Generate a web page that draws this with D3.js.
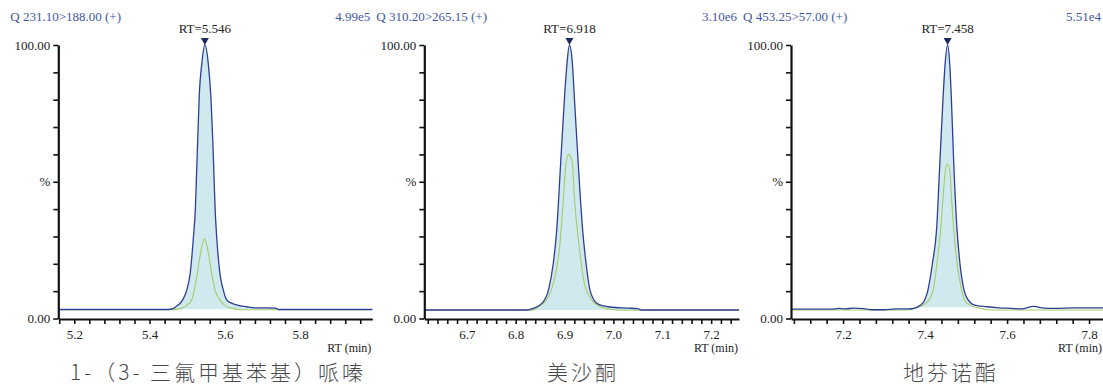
<!DOCTYPE html>
<html>
<head>
<meta charset="utf-8">
<script src="https://cdn.jsdelivr.net/npm/d3@7"></script>
<style>
body { margin: 0; background: #fff; }
svg { display: block; }
</style>
</head>
<body>
<div id="chart"></div>
<script>
// chromatogram data, [time (min), intensity %]
var transitions = ["Q 231.10>188.00 (+)", "Q 310.20>265.15 (+)", "Q 453.25>57.00 (+)"];
var maxCounts = ["4.99e5", "3.10e6", "5.51e4"];
var rtLabels = ["5.546", "6.918", "7.458"];
var names = ["1-（3- 三氟甲基苯基）哌嗪", "美沙酮", "地芬诺酯"];

var xDomains = [[5.1575, 5.992], [6.613, 7.257], [7.073, 7.834]];
var xMajor = [[5.2, 5.4, 5.6, 5.8], [6.7, 6.8, 6.9, 7.0, 7.1, 7.2], [7.2, 7.4, 7.6, 7.8]];
var xMinorStep = [0.04, 0.02, 0.04];
var yTicks = [0, 10, 20, 30, 40, 50, 60, 70, 80, 90, 100];

var blue1 = [[5.158,3.3],[5.45,3.3],[5.462,3.6],[5.470,4.3],[5.488,6.8],[5.499,10.4],[5.508,16.5],[5.516,28.7],
  [5.522,40.9],[5.525,53.1],[5.528,65.3],[5.532,81.1],[5.539,93.3],[5.547,100],[5.556,93.3],[5.563,81.1],
  [5.568,65.3],[5.571,53.1],[5.574,40.9],[5.579,28.7],[5.587,16.5],[5.596,10.4],[5.605,6.8],[5.618,5.6],
  [5.635,4.8],[5.658,4.3],[5.68,3.9],[5.736,3.8],[5.742,3.3],[5.992,3.3]];
var green1 = [[5.158,3.2],[5.46,3.2],[5.486,3.8],[5.500,5.0],[5.512,6.8],[5.520,11],[5.527,16.5],[5.534,22.6],
  [5.539,26.3],[5.546,29.1],[5.553,26.3],[5.558,22.6],[5.565,16.5],[5.574,10.5],[5.587,6.8],[5.600,4.8],
  [5.618,3.8],[5.645,3.2],[5.992,3.2]];

var blue2 = [[6.613,3.1],[6.82,3.1],[6.836,3.7],[6.854,5.6],[6.867,10.4],[6.877,20.2],[6.884,32.4],[6.892,56.7],
  [6.900,81.1],[6.905,93.3],[6.910,100],[6.916,93.3],[6.920,81.1],[6.928,56.7],[6.937,32.4],[6.944,20.2],
  [6.952,10.4],[6.966,5.6],[6.980,4.6],[6.993,4.2],[7.03,3.8],[7.05,3.6],[7.058,3.1],[7.257,3.1]];
var green2 = [[6.613,3.0],[6.83,3.0],[6.847,4.3],[6.867,8.0],[6.879,14.1],[6.890,26.3],[6.898,44.5],[6.903,56.7],
  [6.909,60],[6.916,56.7],[6.920,44.5],[6.930,26.3],[6.939,14.1],[6.951,8.0],[6.973,4.3],[6.99,3.5],
  [7.02,3.0],[7.257,3.0]];

var blue3 = [[7.073,3.4],[7.17,3.4],[7.19,3.7],[7.205,3.5],[7.225,3.8],[7.25,3.6],[7.27,3.2],[7.30,3.2],
  [7.33,3.5],[7.36,3.5],[7.375,3.8],[7.388,4.8],[7.398,6.4],[7.407,10.4],[7.418,20.2],[7.428,32.4],
  [7.436,56.7],[7.444,81.1],[7.449,93.3],[7.455,100],[7.460,93.3],[7.464,81.1],[7.470,56.7],[7.478,32.4],
  [7.485,20.2],[7.495,10.4],[7.505,6.8],[7.521,4.9],[7.55,4.3],[7.58,3.9],[7.61,3.7],[7.635,3.5],
  [7.665,4.4],[7.69,3.8],[7.72,3.7],[7.76,3.9],[7.834,3.9]];
var green3 = [[7.073,3.1],[7.36,3.1],[7.379,3.9],[7.403,5.7],[7.420,10.5],[7.429,20.3],[7.438,32.4],[7.444,44.5],
  [7.4497,54.3],[7.454,56.6],[7.4602,54.3],[7.4644,44.5],[7.470,32.4],[7.478,20.3],[7.489,10.5],[7.501,5.7],
  [7.529,3.9],[7.56,3.1],[7.834,3.1]];

// integrated peak window [start, end, baseline %]
var peakWindows = [[5.455, 5.742, 3.3], [6.83, 7.058, 3.1], [7.388, 7.515, 4.0]];

var blueSeries = [blue1, blue2, blue3];
var greenSeries = [green1, green2, green3];

var width = 1103, height = 386;
var axisLeftX = [58.3, 424.3, 791];
var axisRightX = [372.3, 739, 1103];
var y0 = 318.5, y100 = 45;

var serif = "'Times New Roman', 'Liberation Serif', 'DejaVu Serif', serif";
var cjk = "'Noto Sans CJK SC', 'Noto Sans', sans-serif";

var svg = d3.select("#chart").append("svg")
  .attr("width", width)
  .attr("height", height);

for (var p = 0; p < 3; p++) {
  var x = d3.scaleLinear().domain(xDomains[p]).range([axisLeftX[p], axisRightX[p]]);
  var y = d3.scaleLinear().domain([0, 100]).range([y0, y100]);
  var g = svg.append("g");

  // fill of the integrated peak
  var win = peakWindows[p];
  g.append("clipPath").attr("id", "clip" + p)
    .append("rect")
    .attr("x", x(win[0])).attr("width", x(win[1]) - x(win[0]))
    .attr("y", 0).attr("height", y(win[2]));

  var area = d3.area()
    .x(function(d) { return x(d[0]); })
    .y0(y(win[2]))
    .y1(function(d) { return y(d[1]); })
    .curve(d3.curveMonotoneX);

  g.append("path")
    .datum(blueSeries[p])
    .attr("clip-path", "url(#clip" + p + ")")
    .attr("fill", "#d0e9ef")
    .attr("d", area);

  var line = d3.line()
    .x(function(d) { return x(d[0]); })
    .y(function(d) { return y(d[1]); })
    .curve(d3.curveMonotoneX);

  g.append("path")
    .datum(greenSeries[p])
    .attr("fill", "none")
    .attr("stroke", "#a9c96b")
    .attr("stroke-width", 1.1)
    .attr("d", line);

  g.append("path")
    .datum(blueSeries[p])
    .attr("fill", "none")
    .attr("stroke", "#2e3f95")
    .attr("stroke-width", 1.3)
    .attr("d", line);

  // x axis
  var minor = d3.range(xDomains[p][0], xDomains[p][1], 0.001)
    .map(function(v) { return Math.round(v / xMinorStep[p]) * xMinorStep[p]; });
  minor = Array.from(new Set(minor.map(function(v) { return +v.toFixed(3); })))
    .filter(function(v) { return v >= xDomains[p][0] && v <= xDomains[p][1]; });

  var xAxis = g.append("g")
    .attr("transform", "translate(0," + (y0 + 0.5) + ")")
    .call(d3.axisBottom(x).tickValues(minor).tickSize(5).tickSizeOuter(0)
      .tickFormat(function(d) {
        var isMajor = xMajor[p].some(function(m) { return Math.abs(m - d) < 1e-6; });
        return isMajor ? d3.format(".1f")(d) : "";
      }));
  xAxis.attr("font-family", null).style("font-family", serif);
  xAxis.select(".domain").attr("stroke", "#111").attr("stroke-width", 2.2);
  xAxis.selectAll(".tick line").attr("stroke", "#111").attr("stroke-width", 1.6);
  xAxis.selectAll(".tick text")
    .style("font-family", serif).attr("font-size", 13).attr("fill", "#222").attr("dy", "0.95em");

  // y axis
  var yAxis = g.append("g")
    .attr("transform", "translate(" + axisLeftX[p] + ",0)")
    .call(d3.axisLeft(y).tickValues(yTicks).tickSize(5).tickSizeOuter(0)
      .tickFormat(function(d) {
        if (d === 100) return "100.00";
        if (d === 0) return "0.00";
        if (d === 50) return "%";
        return "";
      }));
  yAxis.attr("font-family", null).style("font-family", serif);
  yAxis.select(".domain").attr("stroke", "#111").attr("stroke-width", 2.2);
  yAxis.selectAll(".tick line").attr("stroke", "#111").attr("stroke-width", 1.6);
  yAxis.selectAll(".tick text")
    .style("font-family", serif).attr("font-size", 13).attr("fill", "#222").attr("x", -8);

  // header texts
  g.append("text")
    .style("font-family", serif)
    .attr("x", axisLeftX[p] - 48).attr("y", 21)
    .attr("font-size", 13).attr("fill", "#4257a3")
    .text(transitions[p]);
  g.append("text")
    .style("font-family", serif)
    .attr("x", axisRightX[p] - 2).attr("y", 21)
    .attr("text-anchor", "end")
    .attr("font-size", 13).attr("fill", "#4257a3")
    .text(maxCounts[p]);

  // peak marker at the apex
  var apex = blueSeries[p].reduce(function(a, b) { return b[1] > a[1] ? b : a; });
  var px = x(apex[0]);
  g.append("path")
    .attr("d", "M" + (px - 4) + "," + 38 + "L" + (px + 4) + "," + 38 + "L" + px + "," + 45 + "Z")
    .attr("fill", "#1f2a5e");
  g.append("text")
    .style("font-family", serif)
    .attr("x", px).attr("y", 33)
    .attr("text-anchor", "middle")
    .attr("font-size", 13).attr("fill", "#222")
    .text("RT=" + rtLabels[p]);

  // axis title
  g.append("text")
    .style("font-family", serif)
    .attr("x", axisRightX[p] - 1).attr("y", 352)
    .attr("text-anchor", "end")
    .attr("font-size", 12).attr("fill", "#222")
    .text("RT (min)");
}

// compound names
var nameX = [218, 583, 951];
svg.selectAll(".name")
  .data(names)
  .enter()
  .append("text")
  .attr("class", "name")
  .style("font-family", cjk)
  .style("letter-spacing", "3px")
  .attr("x", function(d, i) { return nameX[i]; })
  .attr("y", 379.5)
  .attr("text-anchor", "middle")
  .attr("font-weight", 300)
  .attr("font-size", 21)
  .attr("fill", "#4a4a4a")
  .text(function(d) { return d; });
</script>
</body>
</html>
